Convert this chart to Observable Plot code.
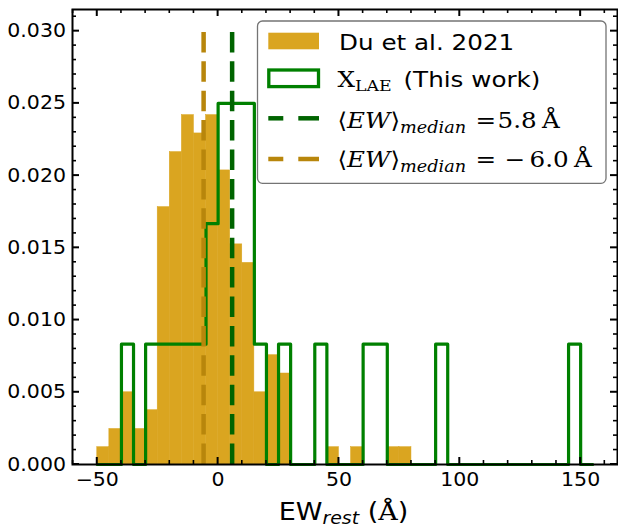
<!DOCTYPE html>
<html><head><meta charset="utf-8">
<script src="https://cdn.jsdelivr.net/npm/d3@7"></script>
<script src="https://cdn.jsdelivr.net/npm/@observablehq/plot@0.6"></script>
<style>body{margin:0;background:#fff} svg{display:block}</style>
</head><body><div id="chart"></div>
<script>
// ---- data ----
const binWidth = 5;
const duBinLeft = [-50,-45,-40,-35,-30,-25,-20,-15,-10,-5,0,5,10,15,20,25,30,35,40,45,50,55,60,65,70,75];
const duDensity = [0.0012,0.00246,0.0050,0.00246,0.00376,0.01782,0.02163,0.02419,0.02292,0.02419,0.02036,0.01524,0.01396,0.0050,0.00757,0.0063,0,0,0,0.0012,0,0.0012,0,0,0.0012,0.0012];
const laeBinLeft = [-50,-45,-40,-35,-30,-25,-20,-15,-10,-5,0,5,10,15,20,25,30,35,40,45,50,55,60,65,70,75,80,85,90,95,100,105,110,115,120,125,130,135,140,145,150];
const laeDensity = [0,0,0.00833,0,0.00833,0.00833,0.00833,0.00833,0.00833,0.01667,0.025,0.025,0.025,0.00833,0,0.00833,0,0,0.00833,0,0,0,0.00833,0.00833,0,0,0,0,0.00833,0,0,0,0,0,0,0,0,0,0,0.00833,0];
const medianLAE = 5.8, medianDu = -6.0, medianTop = 0.03;
const xTicks = [-50,0,50,100,150];
const xMinorTicks = [-60,-40,-30,-20,-10,10,20,30,40,60,70,80,90,110,120,130,140,160];
const yTicks = [0,0.005,0.010,0.015,0.020,0.025,0.030];
const yMinorTicks = [0.001,0.002,0.003,0.004,0.006,0.007,0.008,0.009,0.011,0.012,0.013,0.014,0.016,0.017,0.018,0.019,0.021,0.022,0.023,0.024,0.026,0.027,0.028,0.029,0.031];
const legendLabels = ["Du et al. 2021","(This work)","5.8","6.0"];

// ---- tables ----
const du = duBinLeft.map((b,i)=>({x1:b, x2:b+binWidth, y:duDensity[i]})).filter(d => d.y > 0);
const lastEdge = laeBinLeft[laeBinLeft.length-1] + binWidth;
const step = [{x:laeBinLeft[0], y:0}, ...laeBinLeft.map((b,i)=>({x:b, y:laeDensity[i]})), {x:lastEdge, y:0}];

const W = 618, H = 527;
const SX = 1.08;  // horizontal text stretch seen in the reference (axes)
const SXL = 1.12; // legend text stretch
const chart = Plot.plot({
  width: W, height: H,
  marginLeft: 72, marginRight: 1, marginTop: 9, marginBottom: 63,
  x: {domain: [-60.25, 165.25]},
  y: {domain: [0, 0.0315]},
  style: {fontFamily: "DejaVu Sans", background: "white", color: "black"},
  marks: [
    Plot.rect(du, {x1: "x1", x2: "x2", y1: () => 0, y2: "y", fill: "#DAA520", stroke: "#DAA520", strokeWidth: 0.5}),
    Plot.line(step, {x: "x", y: "y", curve: "step-after", stroke: "#008000", strokeWidth: 3.2}),
    Plot.ruleX([medianDu], {x: d => d, y1: () => 0, y2: () => medianTop, stroke: "#B8860B", strokeWidth: 4.5, strokeDasharray: "20.5,8.9"}),
    Plot.ruleX([medianLAE], {x: d => d, y1: () => 0, y2: () => medianTop, stroke: "#006400", strokeWidth: 4.5, strokeDasharray: "20.5,8.9"}),
    Plot.frame({stroke: "black", strokeWidth: 2}),
    Plot.axisX({ticks: xTicks, tickSize: 0, tickPadding: 8, tickFormat: d3.format("d"), fontSize: 19, label: null}),
    Plot.axisY({ticks: yTicks, tickSize: 0, tickPadding: 6.5, tickFormat: d3.format(".3f"), fontSize: 19, label: null})
  ]
});

const svg = d3.select(chart);
const sx = chart.scale("x"), sy = chart.scale("y");
const pBottom = Math.max(...sy.range), pTop = Math.min(...sy.range), pLeft = Math.min(...sx.range), pRight = Math.max(...sx.range);

// stretch tick labels horizontally
chart.querySelectorAll('g[aria-label$="tick label"] text').forEach(t => {
  const tr = t.getAttribute("transform");
  if (tr) t.setAttribute("transform", tr + ` scale(${SX},1)`);
});

// inward ticks on all four sides
const tg = svg.append("g").attr("stroke", "black");
function xt(v, len, w) {
  const px = sx.apply(v);
  tg.append("line").attr("x1", px).attr("x2", px).attr("y1", pBottom).attr("y2", pBottom - len).attr("stroke-width", w);
  tg.append("line").attr("x1", px).attr("x2", px).attr("y1", pTop).attr("y2", pTop + len).attr("stroke-width", w);
}
function yt(v, len, w) {
  const py = sy.apply(v);
  tg.append("line").attr("y1", py).attr("y2", py).attr("x1", pLeft).attr("x2", pLeft + len).attr("stroke-width", w);
  tg.append("line").attr("y1", py).attr("y2", py).attr("x1", pRight).attr("x2", pRight - len).attr("stroke-width", w);
}
xTicks.forEach(v => xt(v, 7, 2));
xMinorTicks.forEach(v => xt(v, 4, 1.6));
yTicks.forEach(v => yt(v, 7, 2));
yMinorTicks.filter(v => v < 0.0315).forEach(v => yt(v, 4, 1.6));

// x label
const xl = svg.append("text")
  .attr("transform", `translate(${(pLeft+pRight)/2 - 1},520) scale(${SX},1)`)
  .attr("text-anchor", "middle").attr("font-family", "DejaVu Sans").attr("font-size", 25).attr("fill", "black");
xl.append("tspan").text("EW");
xl.append("tspan").attr("font-style", "italic").attr("font-size", 17.5).attr("dy", 4).text("rest");
xl.append("tspan").attr("dy", -4).text(" (");
xl.append("tspan").attr("font-family", "DejaVu Serif").text("Å");
xl.append("tspan").text(")");

// legend
const lg = svg.append("g").attr("text-anchor", "start");
lg.append("rect").attr("x", 257.5).attr("y", 21).attr("width", 348.5).attr("height", 162.3).attr("rx", 5)
  .attr("fill", "white").attr("fill-opacity", 0.8).attr("stroke", "#747474").attr("stroke-width", 1.3);
lg.append("rect").attr("x", 268.3).attr("y", 32.7).attr("width", 50.7).attr("height", 16.6).attr("fill", "#DAA520");
lg.append("rect").attr("x", 268.8).attr("y", 70).attr("width", 49.7).attr("height", 16.6).attr("fill", "white").attr("stroke", "#008000").attr("stroke-width", 3.3);
[[118.3, "#006400"], [159, "#B8860B"]].forEach(([y, c]) => {
  lg.append("line").attr("x1", 268.3).attr("x2", 283.3).attr("y1", y).attr("y2", y).attr("stroke", c).attr("stroke-width", 4.5);
  lg.append("line").attr("x1", 298.3).attr("x2", 319).attr("y1", y).attr("y2", y).attr("stroke", c).attr("stroke-width", 4.5);
});
function txt(x, y, s, opts = {}) {
  const t = lg.append("text").attr("transform", `translate(${x},${y}) scale(${SXL},1)`)
    .attr("text-anchor", "start")
    .attr("font-family", opts.family || "DejaVu Sans").attr("font-size", opts.size || 22).attr("fill", "black");
  if (opts.italic) t.attr("font-style", "italic");
  if (s != null) t.text(s);
  return t;
}
txt(339, 50, legendLabels[0]);
const xr = txt(337.5, 86.5, null, {family: "DejaVu Serif"});
xr.append("tspan").text("X");
xr.append("tspan").attr("font-size", 15.5).attr("dy", 4.5).text("LAE");
txt(403.5, 86.5, legendLabels[1]);
function mathRow(y, parts) {
  const m = txt(337.5, y, null, {family: "DejaVu Serif"});
  m.append("tspan").text("⟨");
  m.append("tspan").attr("font-style", "italic").text("EW");
  m.append("tspan").text("⟩");
  m.append("tspan").attr("font-style", "italic").attr("font-size", 15.8).attr("dy", 5).text("median");
  txt(475.5, y, "=", {family: "DejaVu Serif"});
  parts.forEach(([x, s]) => txt(x, y, s, {family: "DejaVu Serif"}));
}
mathRow(128.3, [[497.5, legendLabels[2]], [542, "Å"]]);
mathRow(167, [[504.5, "−"], [529.5, legendLabels[3]], [574, "Å"]]);

document.getElementById("chart").appendChild(chart);
</script>
</body></html>
